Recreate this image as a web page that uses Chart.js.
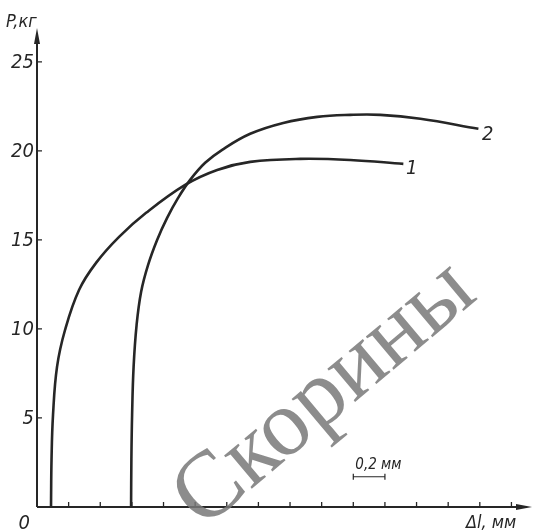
<!DOCTYPE html>
<html>
<head>
<meta charset="utf-8">
<script src="https://cdn.jsdelivr.net/npm/chart.js@4"></script>
<style>
  html, body { margin: 0; padding: 0; background: #fff; }
  #wrap { width: 537px; height: 530px; }
</style>
</head>
<body>
<div id="wrap"><canvas id="chart"></canvas></div>
<script>
// data: Δl in mm, P in kg
const curve1X = [0.0886, 0.0918, 0.1013, 0.1266, 0.1772, 0.2658, 0.3734, 0.519, 0.6899, 0.9367, 1.1392, 1.3481, 1.6646, 1.981, 2.3165];
const curve1Y = [0, 2.64, 5.17, 7.87, 9.94, 12.19, 13.71, 15.17, 16.52, 18.09, 18.93, 19.38, 19.55, 19.49, 19.27];
const curve2X = [0.5949, 0.5968, 0.6013, 0.6108, 0.6297, 0.6582, 0.7025, 0.7595, 0.8228, 0.8924, 0.9684, 1.0633, 1.1709, 1.3481, 1.557, 1.7722, 1.981, 2.1709, 2.4241, 2.7911];
const curve2Y = [0, 2.64, 5.17, 7.87, 10.22, 12.08, 13.6, 15.0, 16.24, 17.36, 18.37, 19.33, 20.06, 20.96, 21.57, 21.91, 22.02, 22.02, 21.8, 21.24];
const yTicks = [5, 10, 15, 20, 25];
const xTicks = [0.2, 0.4, 0.6, 0.8, 1.0, 1.2, 1.4, 1.6, 1.8, 2.0, 2.2, 2.4, 2.6, 2.8, 3.0];
const curveLabels = ["1", "2"];
const scaleBar = [2.0, 2.2]; // 0,2 мм

const ink = "#262626";
const font = '"Liberation Sans Narrow", "DejaVu Sans Condensed", sans-serif';

const toPoints = (xs, ys) => xs.map((x, i) => ({ x: x, y: ys[i] }));

// axes, ticks, labels, watermark
const drawings = {
    id: "drawings",
    afterDraw(chart) {
        const ctx = chart.ctx;
        const x = chart.scales.x;
        const y = chart.scales.y;
        const x0 = x.getPixelForValue(0);
        const y0 = y.getPixelForValue(0);
        const xEnd = chart.chartArea.right;
        const yEnd = chart.chartArea.top;

        ctx.save();
        ctx.strokeStyle = ink;
        ctx.fillStyle = ink;
        ctx.lineWidth = 2;

        // axis lines
        ctx.beginPath();
        ctx.moveTo(x0, y0);
        ctx.lineTo(x0, yEnd + 6);
        ctx.moveTo(x0, y0);
        ctx.lineTo(xEnd - 6, y0);
        ctx.stroke();

        // arrows
        ctx.beginPath();
        ctx.moveTo(x0, yEnd);
        ctx.lineTo(x0 - 3, yEnd + 16);
        ctx.lineTo(x0 + 3, yEnd + 16);
        ctx.closePath();
        ctx.fill();
        ctx.beginPath();
        ctx.moveTo(xEnd, y0);
        ctx.lineTo(xEnd - 16, y0 - 3);
        ctx.lineTo(xEnd - 16, y0 + 3);
        ctx.closePath();
        ctx.fill();

        // ticks
        ctx.lineWidth = 1.3;
        ctx.beginPath();
        yTicks.forEach((v) => {
            const py = y.getPixelForValue(v);
            ctx.moveTo(x0, py);
            ctx.lineTo(x0 + 5, py);
        });
        xTicks.forEach((v) => {
            const px = x.getPixelForValue(v);
            ctx.moveTo(px, y0);
            ctx.lineTo(px, y0 - 5);
        });
        ctx.stroke();

        // tick labels
        ctx.font = "italic 20px " + font;
        ctx.textAlign = "right";
        ctx.textBaseline = "middle";
        yTicks.forEach((v) => {
            ctx.fillText(String(v), x0 - 3, y.getPixelForValue(v) + 1);
        });
        ctx.textBaseline = "alphabetic";
        ctx.fillText("0", x0 - 7, y0 + 22);

        // axis titles
        ctx.textAlign = "left";
        ctx.font = "italic 18px " + font;
        ctx.fillText("P,кг", 6, 27);
        ctx.fillText("Δl, мм", 466, 528);

        // curve numbers
        ctx.font = "italic 20px " + font;
        ctx.fillText(curveLabels[0], 406, 174);
        ctx.fillText(curveLabels[1], 482, 140);

        // scale bar
        const bx1 = x.getPixelForValue(scaleBar[0]);
        const bx2 = x.getPixelForValue(scaleBar[1]);
        const by = y.getPixelForValue(1.7);
        ctx.lineWidth = 1.2;
        ctx.beginPath();
        ctx.moveTo(bx1, by);
        ctx.lineTo(bx2, by);
        ctx.moveTo(bx1, by - 3);
        ctx.lineTo(bx1, by + 3);
        ctx.moveTo(bx2, by - 3);
        ctx.lineTo(bx2, by + 3);
        ctx.stroke();
        ctx.font = "italic 15px " + font;
        ctx.fillText("0,2 мм", bx1 + 2, by - 8);

        // library watermark
        ctx.translate(325, 395);
        ctx.rotate(-40 * Math.PI / 180);
        ctx.font = '94px "Liberation Serif", "DejaVu Serif", serif';
        ctx.textAlign = "center";
        ctx.textBaseline = "middle";
        ctx.fillStyle = "rgba(120,120,120,0.85)";
        ctx.fillText("Скорины", 0, 0);
        ctx.restore();
    },
};

new Chart(document.getElementById("chart"), {
    type: "line",
    data: {
        datasets: [
            {
                label: "1",
                data: toPoints(curve1X, curve1Y),
            },
            {
                label: "2",
                data: toPoints(curve2X, curve2Y),
            },
        ],
    },
    options: {
        responsive: true,
        maintainAspectRatio: false,
        animation: false,
        layout: {
            padding: { left: 37, right: 5, top: 28, bottom: 23 },
        },
        elements: {
            line: {
                borderColor: ink,
                borderWidth: 2.6,
                tension: 0.4,
                fill: false,
            },
            point: { radius: 0 },
        },
        scales: {
            x: { type: "linear", min: 0, max: 3.13, display: false },
            y: { type: "linear", min: 0, max: 26.9, display: false },
        },
        plugins: {
            legend: { display: false },
            tooltip: { enabled: false },
        },
    },
    plugins: [drawings],
});
</script>
</body>
</html>
